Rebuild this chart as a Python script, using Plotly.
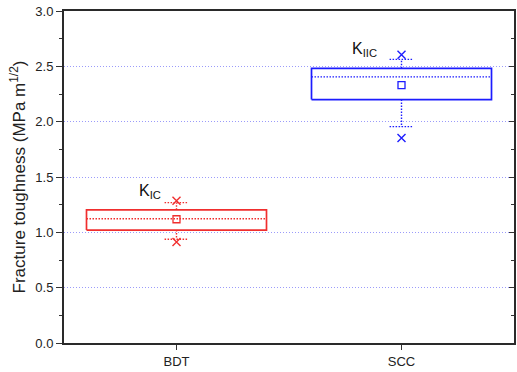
import plotly.graph_objects as go

# Box statistics for each fracture mode
categories = ["BDT", "SCC"]
labels = ["K<sub>IC</sub>", "K<sub>IIC</sub>"]
q1 = [1.02, 2.20]
median = [1.123, 2.405]
q3 = [1.203, 2.482]
mean = [1.118, 2.331]
whisker_low = [0.937, 1.955]
whisker_high = [1.268, 2.563]
minimum = [0.913, 1.852]
maximum = [1.286, 2.605]
colors = ["#f02e2e", "#1c1cff"]

BOX_HALF = 0.4
CAP_HALF = 0.053
DOT = "1.5px,1.5px"

fig = go.Figure()

for i, cat in enumerate(categories):
    c = colors[i]
    xc = i
    # box body
    fig.add_trace(go.Scatter(
        x=[xc - BOX_HALF, xc + BOX_HALF, xc + BOX_HALF, xc - BOX_HALF, xc - BOX_HALF],
        y=[q1[i], q1[i], q3[i], q3[i], q1[i]],
        mode="lines", line=dict(color=c, width=1.7), hoverinfo="skip"))
    # median
    fig.add_trace(go.Scatter(
        x=[xc - BOX_HALF, xc + BOX_HALF], y=[median[i], median[i]],
        mode="lines", line=dict(color=c, width=1.4, dash=DOT), hoverinfo="skip"))
    # whiskers
    fig.add_trace(go.Scatter(
        x=[xc, xc, None, xc, xc],
        y=[q3[i], whisker_high[i], None, q1[i], whisker_low[i]],
        mode="lines", line=dict(color=c, width=1.4, dash=DOT), hoverinfo="skip"))
    # whisker caps
    fig.add_trace(go.Scatter(
        x=[xc - CAP_HALF, xc + CAP_HALF, None, xc - CAP_HALF, xc + CAP_HALF],
        y=[whisker_high[i], whisker_high[i], None, whisker_low[i], whisker_low[i]],
        mode="lines", line=dict(color=c, width=1.4, dash=DOT), hoverinfo="skip"))
    # mean
    fig.add_trace(go.Scatter(
        x=[xc], y=[mean[i]], mode="markers",
        marker=dict(symbol="square-open", size=7, color=c, line=dict(width=1.3))))
    # extremes
    fig.add_trace(go.Scatter(
        x=[xc, xc], y=[minimum[i], maximum[i]], mode="markers",
        marker=dict(symbol="x-thin-open", size=8, color=c, line=dict(width=1.4, color=c))))

# mode labels
fig.add_annotation(x=-0.175, y=maximum[0] + 0.08, text=labels[0], showarrow=False,
                   xanchor="left", yanchor="middle",
                   font=dict(family="Liberation Sans, Arial", size=16, color="#111"))
fig.add_annotation(x=1 - 0.228, y=maximum[1] + 0.045, text=labels[1], showarrow=False,
                   xanchor="left", yanchor="middle",
                   font=dict(family="Liberation Sans, Arial", size=16, color="#111"))

# right-hand axis carrying inward ticks
fig.add_trace(go.Scatter(x=[0], y=[0], yaxis="y2", mode="markers",
                         marker=dict(opacity=0), hoverinfo="skip"))

axis_font = dict(family="Liberation Sans, Arial", size=13, color="#222")

fig.update_layout(
    width=517, height=372,
    margin=dict(l=64, r=1, t=11, b=29),
    plot_bgcolor="white", paper_bgcolor="white",
    showlegend=False,
    font=axis_font,
    xaxis=dict(
        range=[-0.5, 1.5], tickvals=[0, 1], ticktext=categories,
        ticks="outside", ticklen=5, tickwidth=1.3, tickcolor="#333",
        showline=True, linecolor="#2a2a2a", linewidth=2, mirror=True,
        showgrid=False, zeroline=False, tickfont=axis_font),
    yaxis=dict(
        range=[0, 3], dtick=0.5, tickformat=".1f",
        ticks="outside", ticklen=6, tickwidth=1.3, tickcolor="#333",
        minor=dict(dtick=0.25, ticks="outside", ticklen=3, tickcolor="#333", showgrid=False),
        showline=True, linecolor="#2a2a2a", linewidth=2, mirror=True,
        showgrid=True, gridcolor="#9b9bfa", griddash="1px,2px", gridwidth=1,
        zeroline=False, tickfont=axis_font,
        title=dict(text="Fracture toughness (MPa m<sup>1/2</sup>)",
                   font=dict(family="Liberation Sans, Arial", size=17, color="#222"),
                   standoff=5)),
    yaxis2=dict(
        range=[0, 3], dtick=0.5, overlaying="y", side="right",
        ticks="inside", ticklen=5, tickwidth=1.3, tickcolor="#333",
        minor=dict(dtick=0.25, ticks="inside", ticklen=3, tickcolor="#333"),
        showticklabels=False, showgrid=False, zeroline=False,
        showline=True, linecolor="#2a2a2a", linewidth=2),
)

fig.write_html("out.html")
